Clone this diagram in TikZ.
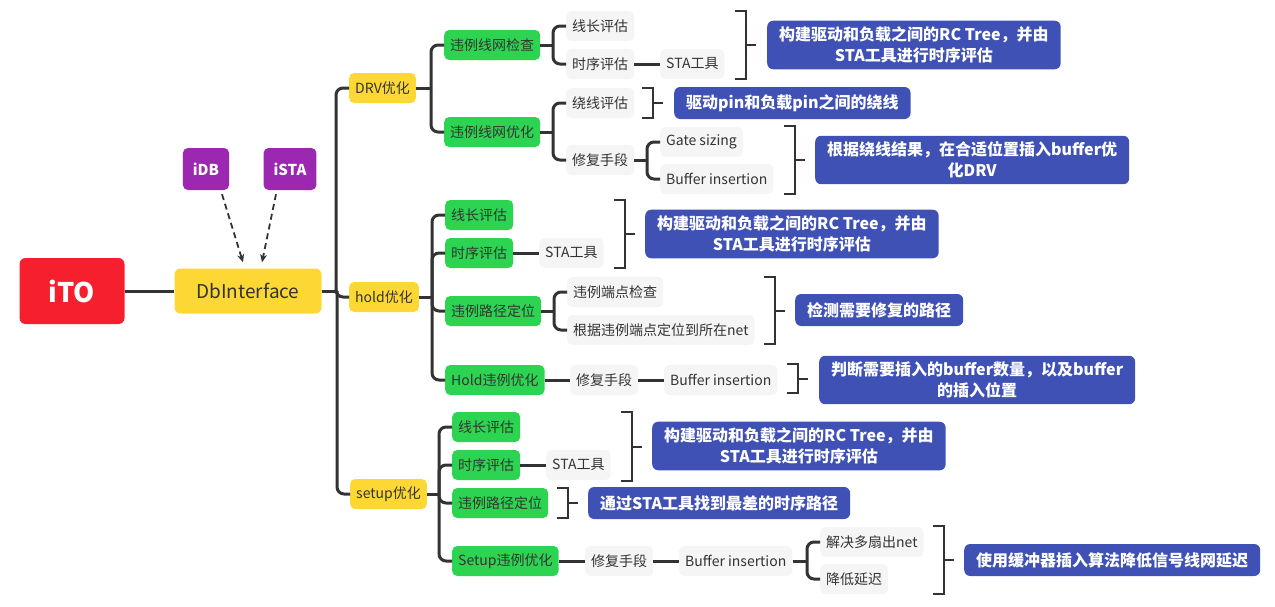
\documentclass[tikz,border=0pt]{standalone}
\usepackage{fontspec}
\setmainfont{Noto Sans CJK SC}
\usetikzlibrary{arrows.meta}
\usetikzlibrary{calc}
\definecolor{itored}{HTML}{F61F2D}
\definecolor{gold}{HTML}{FDD835}
\definecolor{leaf}{HTML}{2DD451}
\definecolor{purp}{HTML}{9C27B0}
\definecolor{noteblue}{HTML}{3F51B5}
\definecolor{pale}{HTML}{F5F5F5}
\definecolor{ink}{HTML}{333333}
\tikzset{ln/.style={ink,line width=3pt,rounded corners=7pt}}
\tikzset{br/.style={ink,line width=2pt}}
\tikzset{feed/.style={ink,line width=1.8pt,dash pattern=on 6pt off 4pt,-{Stealth[length=8pt,width=7pt]}}}
\tikzset{box/.style={rounded corners=5pt,inner ysep=0pt,inner xsep=6pt,minimum height=30pt,text=ink,font=\fontsize{14}{14}\selectfont}}
\tikzset{topic/.style={box,fill=gold,anchor=west}}
\tikzset{grp/.style={box,fill=leaf,anchor=west}}
\tikzset{tip/.style={box,fill=pale,anchor=west}}
\tikzset{src/.style={box,fill=purp,text=white,font=\fontsize{15}{15}\selectfont\bfseries,inner xsep=10pt,minimum height=42pt}}
\tikzset{note/.style={rounded corners=6pt,fill=noteblue,text=white,font=\fontsize{16}{21}\selectfont\bfseries,align=center,anchor=west,inner xsep=12pt,inner ysep=6pt,minimum height=32pt}}

\begin{document}
\begin{tikzpicture}[x=1pt,y=-1pt]
        \useasboundingbox (0,0) rectangle (1275,606);
        % root and interface
        \node[box,fill=itored,text=white,font=\fontsize{27}{27}\selectfont\bfseries,minimum width=105pt,minimum height=66pt,rounded corners=6pt] (ito) at (72,291) {iTO};
        \node[box,fill=gold,font=\fontsize{19}{19}\selectfont,minimum width=147pt,minimum height=45pt,rounded corners=6pt] (db) at (248,291) {DbInterface};
        \node[src] (idb) at (206,169) {iDB};
        \node[src] (ista) at (290,169) {iSTA};
        \draw[ln] (ito) -- (db);
        \draw[feed] ([xshift=16pt,yshift=-4pt]idb.south) -- ([xshift=-5pt,yshift=6pt]db.north);
        \draw[feed] ([xshift=-14pt,yshift=-4pt]ista.south) -- ([xshift=14pt,yshift=6pt]db.north);
        % first level
        \node[topic] (drv) at (349,88) {DRV优化};
        \node[topic] (hold) at (349,297) {hold优化};
        \node[topic] (setup) at (350,494) {setup优化};
        % DRV
        \node[grp] (chk) at (444,45) {违例线网检查};
        \node[grp] (opt) at (444,132) {违例线网优化};
        \node[tip] (wl1) at (566,26) {线长评估};
        \node[tip] (st1) at (566,64) {时序评估};
        \node[tip] (sta1) at (660,64) {STA工具};
        \node[tip] (route) at (566,103) {绕线评估};
        \node[tip] (fix1) at (566,160) {修复手段};
        \node[tip] (gate) at (660,142) {Gate sizing};
        \node[tip] (buf1) at (660,179) {Buffer insertion};
        % hold
        \node[grp] (hwl) at (445,215) {线长评估};
        \node[grp] (hst) at (445,253) {时序评估};
        \node[grp] (hpath) at (445,311) {违例路径定位};
        \node[grp] (hfix) at (445,380) {Hold违例优化};
        \node[tip] (sta2) at (539,253) {STA工具};
        \node[tip] (ept) at (567,292) {违例端点检查};
        \node[tip] (net) at (567,330) {根据违例端点定位到所在net};
        \node[tip] (fix2) at (570,380) {修复手段};
        \node[tip] (buf2) at (664,380) {Buffer insertion};
        % setup
        \node[grp] (swl) at (452,427) {线长评估};
        \node[grp] (sst) at (452,465) {时序评估};
        \node[grp] (spath) at (452,503) {违例路径定位};
        \node[grp] (sfix) at (452,561) {Setup违例优化};
        \node[tip] (sta3) at (546,465) {STA工具};
        \node[tip] (fix3) at (585,561) {修复手段};
        \node[tip] (buf3) at (679,561) {Buffer insertion};
        \node[tip] (fan) at (820,542) {解决多扇出net};
        \node[tip] (delay) at (820,579) {降低延迟};
        % summaries
        \node[note] (n1) at (767,45) {构建驱动和负载之间的RC Tree，并由\\STA工具进行时序评估};
        \node[note] (n2) at (674,103) {驱动pin和负载pin之间的绕线};
        \node[note] (n3) at (815,160) {根据绕线结果，在合适位置插入buffer优\\化DRV};
        \node[note] (n4) at (645,234) {构建驱动和负载之间的RC Tree，并由\\STA工具进行时序评估};
        \node[note] (n5) at (795,310) {检测需要修复的路径};
        \node[note] (n6) at (819,380) {判断需要插入的buffer数量，以及buffer\\的插入位置};
        \node[note] (n7) at (652,446) {构建驱动和负载之间的RC Tree，并由\\STA工具进行时序评估};
        \node[note] (n8) at (588,503) {通过STA工具找到最差的时序路径};
        \node[note] (n9) at (964,560) {使用缓冲器插入算法降低信号线网延迟};
        % branches
        \foreach \p/\c in {db/drv,db/hold,db/setup,drv/chk,drv/opt,chk/wl1,chk/st1,opt/route,opt/fix1,fix1/gate,fix1/buf1,
            hold/hwl,hold/hst,hold/hpath,hold/hfix,hpath/ept,hpath/net,setup/swl,setup/sst,setup/spath,setup/sfix,buf3/fan,buf3/delay}
          {\draw[ln] (\p.east) -- ($(\p.east -| \c.west)+(-13,0)$) coordinate (j);
           \draw[ln] (j) |- (\c.west);}
        \foreach \a/\b in {st1/sta1,hst/sta2,hfix/fix2,fix2/buf2,sst/sta3,sfix/fix3,fix3/buf3}
          \draw[ln] (\a) -- (\b);
        % brackets
        \foreach \bx/\bt/\bb in {746/11/79,653/88/118,795/126/194,625/200/268,775/277/344,798/364/393,632/412/481,568/488/518,944/526/594}
          {\draw[br] (\bx-11,\bt) -- (\bx,\bt) -- (\bx,\bb) -- (\bx-11,\bb);
           \draw[br] (\bx,{(\bt+\bb)/2}) -- ++(10,0);}
      \end{tikzpicture}
\end{document}
